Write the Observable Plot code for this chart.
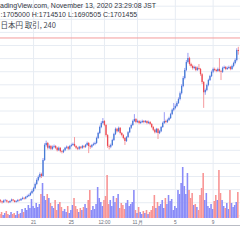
<!DOCTYPE html>
<html><head><meta charset="utf-8">
<script src="https://cdn.jsdelivr.net/npm/d3@7"></script>
<script src="https://cdn.jsdelivr.net/npm/@observablehq/plot@0.6"></script>
<style>
html,body{margin:0;padding:0;background:#fff;}
#wrap{position:relative;width:240px;height:240px;overflow:hidden;background:#fff;}
#wrap svg{position:absolute;left:0;top:0;background:transparent;}
.leg{position:absolute;white-space:nowrap;line-height:1;font-family:"Liberation Sans",Arial,sans-serif;font-size:7px;color:#33363f;}
#bline{position:absolute;left:0;top:225px;width:240px;height:0;border-top:1px solid #b9bcc5;}
</style></head><body><div id="wrap"></div>
<script>
// BTC/JPY 4h candles, prices in thousand yen (千円)
const open = [1246,1243,1240,1245,1246,1242,1240,1244,1248,1245,
1241,1243,1247,1246,1250,1253,1251,1256,1259,1262,
1268,1274,1283,1296,1308,1317,1326,1320,1369,1415,
1421,1406,1412,1403,1409,1412,1406,1399,1406,1396,
1393,1399,1406,1409,1403,1412,1415,1418,1412,1406,
1403,1409,1406,1412,1409,1415,1421,1412,1409,1415,
1418,1421,1436,1451,1470,1482,1488,1476,1445,1412,
1409,1415,1430,1448,1464,1457,1467,1451,1445,1436,
1427,1439,1454,1467,1476,1488,1494,1485,1488,1482,
1485,1488,1485,1488,1482,1485,1479,1470,1461,1454,
1464,1451,1457,1470,1482,1488,1485,1491,1497,1509,
1522,1528,1534,1543,1555,1573,1595,1619,1644,1668,
1680,1662,1656,1650,1653,1644,1650,1647,1631,1607,
1576,1583,1598,1613,1625,1638,1647,1644,1641,1647,
1641,1638,1650,1653,1647,1650,1653,1647,1656,1665,
1674,1705];
const close = [1243,1240,1245,1246,1242,1240,1244,1248,1245,1241,
1243,1247,1246,1250,1253,1251,1256,1259,1262,1268,
1274,1283,1296,1308,1317,1326,1320,1369,1415,1421,
1406,1412,1403,1409,1412,1406,1399,1406,1396,1393,
1399,1406,1409,1403,1412,1415,1418,1412,1406,1403,
1409,1406,1412,1409,1415,1421,1412,1409,1415,1418,
1421,1436,1451,1470,1482,1488,1476,1445,1412,1409,
1415,1430,1448,1464,1457,1467,1451,1445,1436,1427,
1439,1454,1467,1476,1488,1494,1485,1488,1482,1485,
1488,1485,1488,1482,1485,1479,1470,1461,1454,1464,
1451,1457,1470,1482,1488,1485,1491,1497,1509,1522,
1528,1534,1543,1555,1573,1595,1619,1644,1668,1680,
1662,1656,1650,1653,1644,1650,1647,1631,1607,1576,
1583,1598,1613,1625,1638,1647,1644,1641,1647,1641,
1638,1650,1653,1647,1650,1653,1647,1656,1665,1674,
1705,1701.455];
const high = [1249,1245,1248,1250,1248,1244,1246,1251,1250,1247,
1246,1250,1250,1253,1257,1256,1259,1263,1266,1272,
1279,1287,1300,1313,1322,1331,1330,1375,1420,1428,
1424,1416,1415,1413,1416,1414,1409,1410,1408,1399,
1402,1409,1413,1411,1415,1419,1422,1439,1414,1409,
1412,1411,1415,1414,1418,1425,1424,1415,1418,1422,
1425,1440,1455,1474,1487,1497,1491,1479,1448,1416,
1419,1434,1452,1468,1467,1471,1469,1454,1448,1439,
1442,1457,1470,1480,1492,1509,1497,1492,1491,1489,
1492,1491,1491,1490,1489,1488,1482,1473,1464,1467,
1466,1461,1473,1486,1515,1492,1495,1501,1513,1526,
1543,1539,1548,1560,1578,1600,1625,1650,1674,1696,
1684,1666,1660,1657,1656,1654,1662,1650,1634,1610,
1587,1602,1617,1629,1642,1651,1651,1647,1651,1680,
1644,1654,1657,1656,1654,1657,1656,1660,1669,1679,
1710,1714.51];
const low = [1239,1236,1238,1242,1239,1237,1238,1242,1242,1239,
1239,1241,1243,1244,1248,1248,1249,1254,1256,1259,
1265,1271,1280,1292,1304,1313,1314,1318,1366,1410,
1401,1402,1399,1400,1405,1402,1395,1396,1392,1389,
1390,1396,1403,1399,1400,1409,1412,1409,1402,1399,
1400,1402,1403,1405,1406,1412,1390,1403,1406,1412,
1414,1418,1433,1448,1466,1478,1472,1440,1406,1401,
1405,1412,1427,1445,1453,1454,1447,1441,1432,1415,
1424,1436,1451,1464,1473,1485,1481,1482,1478,1479,
1482,1481,1482,1478,1479,1475,1466,1457,1450,1451,
1433,1448,1454,1467,1479,1481,1482,1488,1494,1506,
1518,1524,1530,1540,1551,1569,1591,1615,1640,1664,
1657,1651,1645,1646,1640,1641,1643,1626,1601,1528,
1568,1579,1594,1610,1622,1634,1640,1637,1638,1637,
1613,1635,1647,1643,1644,1647,1643,1644,1652,1661,
1670,1690.505];
const volume = [4,6,3,5,7,4,3,6,4,5,
3,7,4,5,9,6,10,8,13,10,
19,12,10,15,11,14,24,35,22,18,
24,20,15,12,10,18,8,14,16,11,
7,9,6,12,5,8,13,20,12,9,
6,10,8,11,14,10,18,28,8,12,
9,14,31,20,16,12,18,22,43,14,
18,12,22,16,20,24,10,15,13,9,
15,18,12,14,16,28,8,5,11,6,
4,7,5,8,4,6,8,12,23,10,
16,12,14,18,10,20,14,23,17,19,
8,12,10,28,24,35,51,32,24,45,
28,20,25,13,14,11,8,23,30,45,
18,25,12,10,14,9,17,23,18,48,
25,18,12,10,15,9,28,15,11,13,
16,26];
const tickDates = ["2020-10-21T00:00Z","2020-10-25T00:00Z","2020-10-28T12:00Z","2020-11-01T00:00Z","2020-11-05T00:00Z","2020-11-09T00:00Z"];
const tickLabels = ["21","25","12:00","11月","5","9"];
const priceGrid = [1200,1240,1280,1320,1360,1400,1440,1480,1520,1560,1600,1640,1680,1720,1760,1800,1840];
const markLine = [1743];
const legendLines = ["adingView.com, November 13, 2020 23:29:08 JST", ":1705000 H:1714510 L:1690505 C:1701455", "日本円 取引, 240"];

const H4 = 4*3600*1000;
const t0 = Date.UTC(2020,9,17,12); // first candle (JST shown as UTC)
const candles = close.map((c,i)=>({t:new Date(t0+i*H4), o:open[i], h:high[i], l:low[i], c, v:volume[i]}));
const ticks = tickDates.map(s=>new Date(s));
const xDom = [new Date(t0), new Date(t0+152.38*H4)];
const yPrice = (h)=>({domain:[1857.4, 1857.4-h*3.053], range:[0,h], axis:null});

const up = d=>d.c>=d.o;
const gridColor = "#e7ecf3";

const wrap = document.getElementById("wrap");

const grid = Plot.plot({
  width:240, height:218, margin:0,
  x:{type:"utc", domain:xDom, range:[0,240], axis:null},
  y:yPrice(218),
  marks:[
    Plot.ruleY(priceGrid,{stroke:gridColor, strokeWidth:1}),
    Plot.ruleX(ticks,{stroke:gridColor, strokeWidth:1})
  ]
});
wrap.appendChild(grid);

const vol = Plot.plot({
  width:240, height:240, marginTop:0, marginLeft:0, marginRight:0, marginBottom:22,
  style:{background:"transparent"},
  x:{type:"utc", domain:xDom, range:[0,240], axis:null},
  y:{domain:[0,218], axis:null},
  marks:[
    Plot.rect(candles,{x1:d=>new Date(+d.t-H4/2), x2:d=>new Date(+d.t+H4/2), y1:0, y2:"v", fill:d=>up(d)?"#8a8cf8":"#f89494", inset:0}),
    Plot.axisX(ticks,{tickFormat:(d,i)=>tickLabels[i], tickSize:0, tickPadding:2, fontSize:4.8, fill:"#6a6d78", label:null, fontFamily:"Liberation Sans, Arial, sans-serif"})
  ]
});
wrap.appendChild(vol);

const cs = Plot.plot({
  width:240, height:240, margin:0,
  style:{background:"transparent"},
  x:{type:"utc", domain:xDom, range:[0,240], axis:null},
  y:yPrice(240),
  marks:[
    Plot.ruleY(markLine,{stroke:"#f49c9c", strokeWidth:1}),
    Plot.ruleX(candles,{x:"t", y1:"l", y2:"h", stroke:d=>up(d)?"#9a9cf6":"#f59a9e", strokeWidth:1}),
    Plot.ruleX(candles,{x:"t", y1:"o", y2:"c", stroke:d=>up(d)?"#467dd4":"#ec4a53", strokeWidth:1.3})
  ]
});
wrap.appendChild(cs);

const b = document.createElement("div"); b.id="bline"; wrap.appendChild(b);

function leg(text, left, top, extra){
  const d=document.createElement("div"); d.className="leg"; d.textContent=text;
  d.style.left=left+"px"; d.style.top=top+"px";
  if(extra) Object.assign(d.style, extra);
  wrap.appendChild(d);
}
leg(legendLines[0], 0, 2);
leg(legendLines[1], 0.6, 10.5);
leg(legendLines[2], 0.5, 20.5, {fontFamily:'"Noto Sans CJK JP",sans-serif', fontSize:"7.5px", color:"#44474f"});
</script></body></html>
